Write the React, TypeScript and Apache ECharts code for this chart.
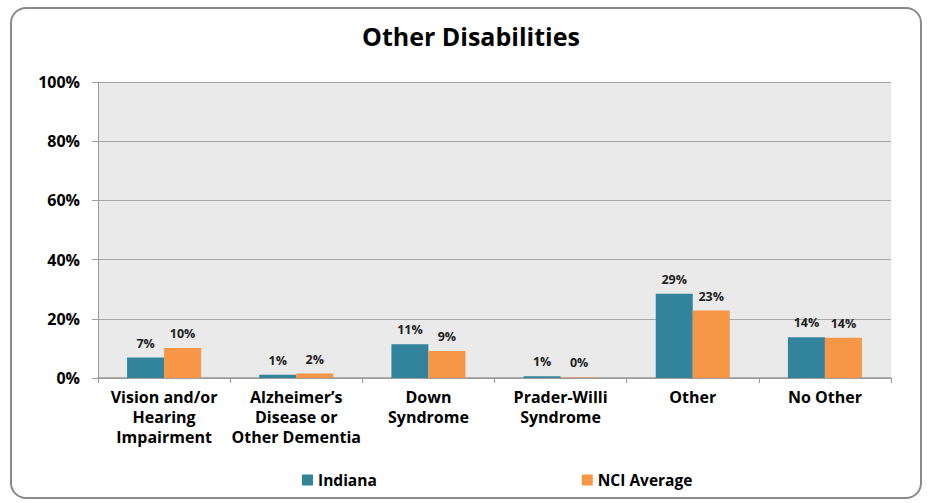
import React, { useEffect, useRef } from "react";
import * as echarts from "echarts";

const categories = [
  "Vision and/or\nHearing\nImpairment",
  "Alzheimer’s\nDisease or\nOther Dementia",
  "Down\nSyndrome",
  "Prader-Willi\nSyndrome",
  "Other",
  "No Other",
];
const indiana = [6.9, 1.1, 11.4, 0.6, 28.5, 13.8];
const nciAverage = [10.1, 1.5, 9.1, 0.2, 22.8, 13.6];
const yTicks = [0, 20, 40, 60, 80, 100];

const FONT = "Open Sans";

export default function App() {
  const ref = useRef<HTMLDivElement>(null);
  useEffect(() => {
    if (!ref.current) return;
    const chart = echarts.init(ref.current, undefined, { renderer: "svg" });
    const label = {
      show: true,
      position: "top" as const,
      distance: 8,
      fontFamily: FONT,
      fontWeight: "bold" as const,
      fontSize: 12.5,
      color: "#222",
      formatter: (p: any) => `${Math.round(p.value)}%`,
    };
    chart.setOption({
      animation: false,
      backgroundColor: "#fff",
      title: {
        text: "Other Disabilities",
        left: 357,
        top: 18,
        textStyle: { fontFamily: FONT, fontWeight: "bold", fontSize: 25, color: "#000" },
      },
      graphic: [
        {
          type: "rect",
          shape: { x: 11, y: 8, width: 910, height: 490, r: 15 },
          style: { fill: "none", stroke: "#8a8a8a", lineWidth: 2 },
          silent: true,
        },
      ],
      legend: {
        bottom: 10,
        left: 297,
        itemGap: 205,
        itemWidth: 11,
        itemHeight: 11,
        icon: "rect",
        textStyle: { fontFamily: FONT, fontWeight: "bold", fontSize: 15.5, color: "#000" },
        data: ["Indiana", "NCI Average"],
      },
      grid: {
        left: 98,
        right: 39,
        top: 82,
        bottom: 125,
        show: true,
        backgroundColor: "#EAEAEA",
        borderWidth: 0,
      },
      xAxis: {
        type: "category",
        data: categories,
        axisLine: { lineStyle: { color: "#999", width: 1.5 } },
        axisTick: { show: true, alignWithLabel: false, length: 5, lineStyle: { color: "#999" } },
        axisLabel: {
          interval: 0,
          margin: 9,
          fontFamily: FONT,
          fontWeight: "bold",
          fontSize: 16,
          lineHeight: 20,
          color: "#000",
        },
      },
      yAxis: {
        type: "value",
        min: yTicks[0],
        max: yTicks[yTicks.length - 1],
        interval: 20,
        axisLine: { show: true, lineStyle: { color: "#999" } },
        axisTick: { show: true, length: 6, lineStyle: { color: "#999" } },
        splitLine: { lineStyle: { color: "#a6a6a6", width: 1 } },
        axisLabel: {
          margin: 18,
          fontFamily: FONT,
          fontWeight: "bold",
          fontSize: 16,
          color: "#000",
          formatter: (v: number) => `${v}%`,
        },
      },
      series: [
        {
          name: "Indiana",
          type: "bar",
          data: indiana,
          barWidth: 37,
          barGap: "0%",
          itemStyle: { color: "#31849B" },
          label,
        },
        {
          name: "NCI Average",
          type: "bar",
          data: nciAverage,
          barWidth: 37,
          barGap: "0%",
          itemStyle: { color: "#F79646" },
          label,
        },
      ],
    });
    return () => chart.dispose();
  }, []);
  return (
    <div
      ref={ref}
      style={{ position: "absolute", left: 0, top: 0, width: 930, height: 503 }}
    />
  );
}
